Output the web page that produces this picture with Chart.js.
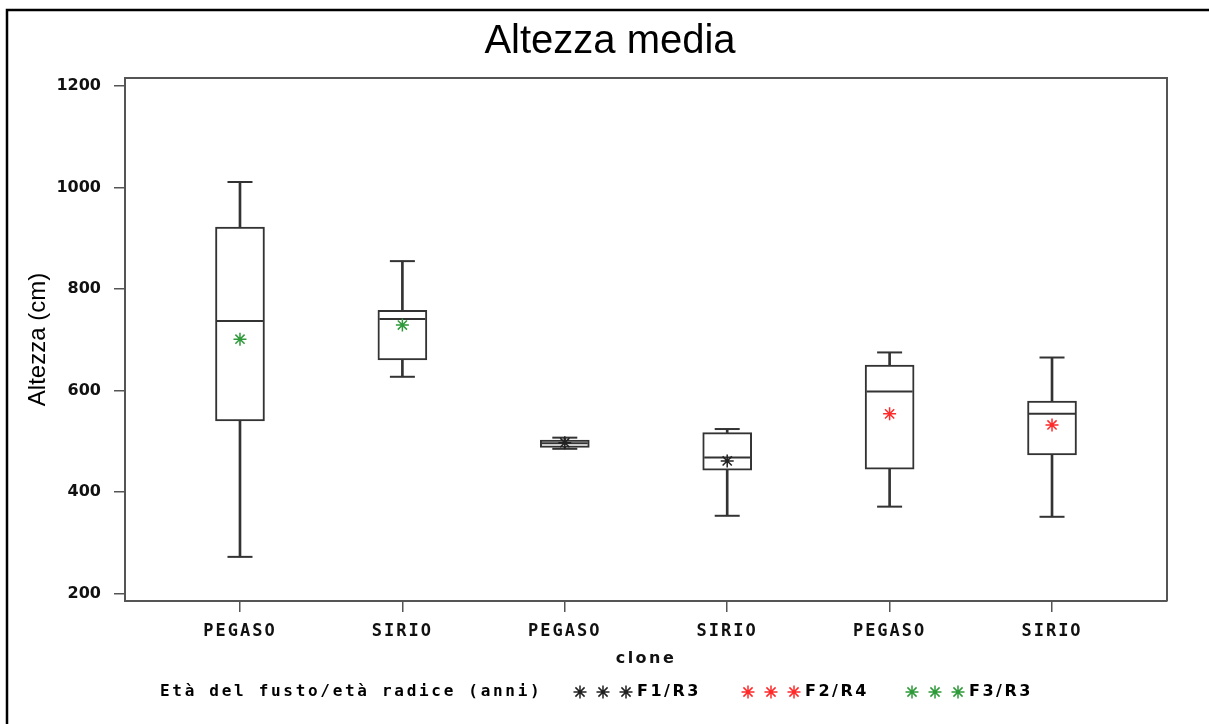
<!DOCTYPE html>
<html><head><meta charset="utf-8">
<script src="https://cdn.jsdelivr.net/npm/chart.js@4/dist/chart.umd.min.js"></script>
<style>html,body{margin:0;padding:0;background:#fff;}#wrap{width:1209px;height:724px;position:relative;}canvas{display:block;}</style>
</head><body><div id="wrap"><canvas id="c" width="1209" height="724" style="width:1209px;height:724px"></canvas></div>
<script>
// ---- data ----
const categories = ['PEGASO','SIRIO','PEGASO','SIRIO','PEGASO','SIRIO'];
const positions = [1,2,3,4,5,6];
const whiskerMin = [272,627,485,353,371,351];
const q1 = [540,660,488,443,445,473];
const median = [737,741,496,468,598,554];
const q3 = [922,758,502,517,650,579];
const whiskerMax = [1011,855,507,524,675,665];
const mean = [701,729,497,461,554,532];
const meanGroup = ['F3/R3','F3/R3','F1/R3','F1/R3','F2/R4','F2/R4'];
const groupNames = ['F1/R3','F2/R4','F3/R3'];
const groupColors = ['#222222','#ff2a2a','#2f9a3a'];
const yTicks = [200,400,600,800,1000,1200];
const legendTitle = 'Età del fusto/età radice (anni)';

const boxColor = '#333333';
const colorOf = g => groupColors[groupNames.indexOf(g)];

const framePlugin = {
  id: 'frame',
  afterDraw(chart) {
    const {ctx, chartArea: a} = chart;
    ctx.save();
    ctx.strokeStyle = '#555'; ctx.lineWidth = 2;
    ctx.beginPath();
    ctx.moveTo(a.left, a.top); ctx.lineTo(a.right, a.top); ctx.lineTo(a.right, a.bottom);
    ctx.stroke();
    ctx.strokeStyle = '#000'; ctx.lineWidth = 2.5;
    ctx.beginPath();
    ctx.moveTo(7, 724); ctx.lineTo(7, 10); ctx.lineTo(1209, 10);
    ctx.stroke();
    ctx.restore();
  }
};

const spacingPlugin = {
  id: 'spacing',
  beforeDraw(chart) {
    const s = chart.scales.x;
    if (s && !s._patched) {
      const dl = s.drawLabels, dt = s.drawTitle;
      s.drawLabels = function(a){ const c=this.ctx; c.save(); c.letterSpacing='2px'; dl.call(this,a); c.restore(); };
      s.drawTitle = function(){ const c=this.ctx; c.save(); c.letterSpacing='2.5px'; dt.call(this); c.restore(); };
      s._patched = true;
    }
  }
};

const legendPlugin = {
  id: 'sasLegend',
  afterDraw(chart) {
    const ctx = chart.ctx;
    ctx.save();
    const y = 692;
    ctx.textBaseline = 'middle';
    ctx.fillStyle = '#000';
    ctx.font = 'bold 16px "DejaVu Sans Mono"';
    ctx.letterSpacing = '2.7px';
    ctx.fillText(legendTitle, 160, y);
    const starX = [[580,603,626],[748,771,794],[912,935,958]];
    const textX = [637, 805, 969];
    groupNames.forEach((g, gi) => {
      ctx.strokeStyle = groupColors[gi];
      ctx.fillStyle = groupColors[gi];
      ctx.lineWidth = 1.5;
      starX[gi].forEach(sx => Chart.helpers.drawPoint(ctx, {pointStyle:'star', radius:6.5, borderWidth:1.5, rotation:0}, sx, y));
      ctx.fillStyle = '#000';
      ctx.font = 'bold 16px "DejaVu Sans"';
      ctx.letterSpacing = '2.5px';
      ctx.fillText(g, textX[gi], y);
    });
    ctx.restore();
  }
};

new Chart(document.getElementById('c'), {
  type: 'scatter',
  data: {
    datasets: [
      { type:'scatter', label:'mean',
        data: positions.map((x,i)=>({x, y: mean[i]})),
        pointStyle:'star', pointRadius:6.5, pointBorderWidth:1.5,
        pointBorderColor: meanGroup.map(colorOf), pointBackgroundColor: meanGroup.map(colorOf) },
      { type:'scatter', label:'median',
        data: positions.map((x,i)=>({x, y: median[i]})),
        pointStyle:'line', pointRadius:23, pointBorderWidth:2, pointBorderColor: boxColor },
      { type:'scatter', label:'caps',
        data: positions.map((x,i)=>({x, y: whiskerMax[i]})).concat(positions.map((x,i)=>({x, y: whiskerMin[i]}))),
        pointStyle:'line', pointRadius:12.5, pointBorderWidth:2, pointBorderColor: boxColor },
      { type:'bar', label:'box',
        data: positions.map((x,i)=>({x, y:[q1[i], q3[i]]})),
        backgroundColor:'#ffffff', borderColor: boxColor, borderWidth:2, borderSkipped:false,
        barThickness:49, grouped:false },
      { type:'bar', label:'whisker',
        data: positions.map((x,i)=>({x, y:[whiskerMin[i], q1[i]]})).concat(positions.map((x,i)=>({x, y:[q3[i], whiskerMax[i]]}))),
        backgroundColor: boxColor, borderWidth:0, barThickness:2, grouped:false }
    ]
  },
  options: {
    responsive: false,
    maintainAspectRatio: false,
    animation: false,
    devicePixelRatio: 1,
    layout: { padding: { left: 53, right: 42, top: 0, bottom: 53 } },
    plugins: {
      legend: { display:false },
      tooltip: { enabled:false },
      title: { display:true, text:'Altezza media', color:'#000',
        font:{ family:'"Liberation Sans", Arial, sans-serif', size:40, weight:'normal', lineHeight:1.2 },
        padding:{ top:18, bottom:12 } }
    },
    scales: {
      x: { type:'linear', min:0.292, max:6.708, offset:false,
        afterBuildTicks: s => { s.ticks = positions.map(v=>({value:v})); },
        afterFit: s => { s.height = 70; },
        grid: { offset:false, drawOnChartArea:false, drawTicks:true, tickLength:11, color:'#555', lineWidth:1.5 },
        border: { display:true, color:'#555', width:2 },
        ticks: { callback:(v,i)=>categories[i], color:'#111', padding:9, maxRotation:0, autoSkip:false,
          font:{ family:'"DejaVu Sans Mono", monospace', size:17, weight:'bold' } },
        title: { display:true, text:'clone', color:'#111', padding:{ top:0, bottom:3 },
          font:{ family:'"DejaVu Sans", sans-serif', size:16, weight:'bold' } }
      },
      y: { type:'linear', min:185, max:1216,
        afterBuildTicks: s => { s.ticks = yTicks.map(v=>({value:v})); },
        afterFit: s => { s.width = 72; },
        grid: { drawOnChartArea:false, drawTicks:true, tickLength:11, color:'#555', lineWidth:1.5 },
        border: { display:true, color:'#555', width:2 },
        ticks: { callback: v => String(v), color:'#111', padding:13,
          font:{ family:'"DejaVu Sans", sans-serif', size:16, weight:'bold' } },
        title: { display:true, text:'Altezza (cm)', color:'#000', padding:{ top:-29.4, bottom:0 },
          font:{ family:'"Liberation Sans", Arial, sans-serif', size:24 } }
      }
    }
  },
  plugins: [spacingPlugin, framePlugin, legendPlugin]
});
</script></body></html>
